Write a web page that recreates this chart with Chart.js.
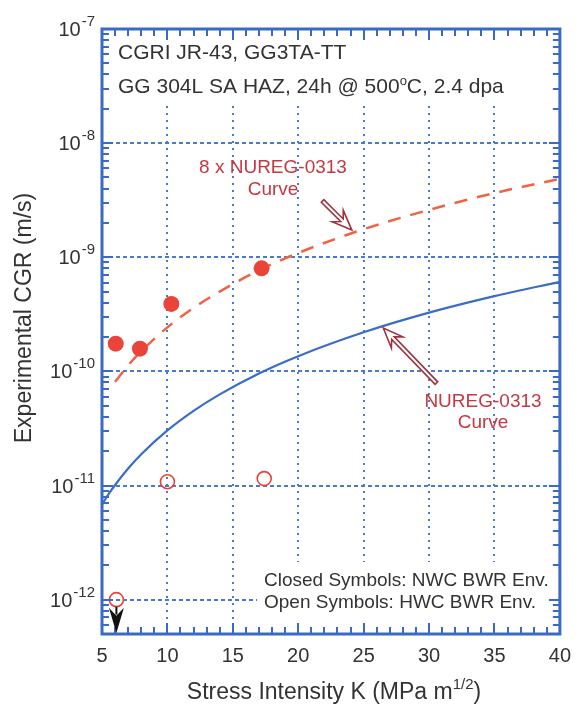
<!DOCTYPE html>
<html><head><meta charset="utf-8">
<script src="https://cdn.jsdelivr.net/npm/chart.js@4"></script>
<style>html,body{margin:0;padding:0;background:#fff;overflow:hidden}#wrap{width:581px;height:708px;position:relative}</style>
</head><body><div id="wrap"><canvas id="c" width="581" height="708"></canvas></div>
<script>
// ---- data ----
const curveK    = [5, 5.5, 6, 7, 8, 10, 12, 14, 17, 20, 25, 30, 35, 40];
const nuregCGR  = [6.8e-12, 8.4e-12, 1.01e-11, 1.41e-11, 1.88e-11, 3.04e-11, 4.51e-11, 6.29e-11, 9.6e-11, 1.36e-10, 2.2e-10, 3.27e-10, 4.56e-10, 6.09e-10];
const nureg8K   = [6, 7, 8, 10, 12, 14, 17, 20, 25, 30, 35, 40];
const nureg8CGR = [8.1e-11, 1.13e-10, 1.5e-10, 2.43e-10, 3.6e-10, 5.0e-10, 7.7e-10, 1.09e-9, 1.76e-9, 2.6e-9, 3.65e-9, 4.87e-9];
const closedK   = [6.05, 7.9, 10.3, 17.2];
const closedCGR = [1.75e-10, 1.58e-10, 3.9e-10, 8.0e-10];
const openK     = [6.1, 10.0, 17.4];
const openCGR   = [1.0e-12, 1.08e-11, 1.15e-11];
const xTicks = [5, 10, 15, 20, 25, 30, 35, 40];
const yTicks = [1e-12, 1e-11, 1e-10, 1e-9, 1e-8, 1e-7];
const yTickExp = ['-12', '-11', '-10', '-9', '-8', '-7'];

const FRAME = 'rgb(58,106,196)';
const GRID = 'rgb(72,122,208)';
const BLUE = 'rgb(58,108,200)';
const DASHRED = 'rgb(240,98,70)';
const MARK = 'rgb(234,68,58)';
const REDTXT = 'rgb(196,56,66)';
const ARROW = 'rgb(160,50,62)';
const TXT = '#333';
const FONT = '"Liberation Sans", Arial, sans-serif';

const pts = (xs, ys) => xs.map((x, i) => ({x, y: ys[i]}));

function supText(ctx, parts, x, y, align) {
  let w = 0;
  parts.forEach(p => { ctx.font = p[1] + 'px ' + FONT; w += ctx.measureText(p[0]).width; });
  let cx = align === 'center' ? x - w / 2 : (align === 'right' ? x - w : x);
  ctx.textAlign = 'left';
  ctx.textBaseline = 'alphabetic';
  parts.forEach(p => {
    ctx.font = p[1] + 'px ' + FONT;
    ctx.fillText(p[0], cx, y - (p[2] || 0));
    cx += ctx.measureText(p[0]).width;
  });
}

function hollowArrow(ctx, x0, y0, x1, y1) {
  const ang = Math.atan2(y1 - y0, x1 - x0);
  const len = Math.hypot(x1 - x0, y1 - y0);
  const L = 20, W = 8, N = 14, S = 1.8;
  ctx.save();
  ctx.translate(x1, y1);
  ctx.rotate(ang);
  ctx.beginPath();
  ctx.moveTo(0, 0);
  ctx.lineTo(-L, -W);
  ctx.lineTo(-N, -S);
  ctx.lineTo(-len, -S);
  ctx.lineTo(-len, S);
  ctx.lineTo(-N, S);
  ctx.lineTo(-L, W);
  ctx.closePath();
  ctx.fillStyle = '#fff'; ctx.fill();
  ctx.strokeStyle = ARROW; ctx.lineWidth = 1.6; ctx.lineJoin = 'miter';
  ctx.stroke();
  ctx.restore();
}

const decor = {
  id: 'decor',
  beforeDatasetsDraw(chart) {
    const {ctx, chartArea: a} = chart;
    ctx.save();
    ctx.fillStyle = '#fff';
    ctx.fillRect(a.left + 1, a.top + 1, a.right - a.left - 2, 75);
    ctx.fillRect(257, 562, a.right - 257 - 1, a.bottom - 562 - 1);
    ctx.restore();
  },
  afterDatasetsDraw(chart) {
    const {ctx, chartArea: a, scales: {x: xs, y: ys}} = chart;
    ctx.save();
    // inward ticks on all four sides
    ctx.strokeStyle = FRAME; ctx.lineWidth = 2;
    ctx.beginPath();
    for (let k = 5; k <= 40; k++) {
      const px = Math.round(xs.getPixelForValue(k));
      const len = k % 5 === 0 ? 11 : 7;
      ctx.moveTo(px, a.bottom); ctx.lineTo(px, a.bottom - len);
      ctx.moveTo(px, a.top); ctx.lineTo(px, a.top + len);
    }
    for (let d = -13; d <= -7; d++) {
      for (let m = 1; m <= 9; m++) {
        const v = m * Math.pow(10, d);
        if (v < 4.99e-13 || v > 1.0001e-7) continue;
        const py = Math.round(ys.getPixelForValue(v));
        const len = m === 1 ? 11 : 7;
        ctx.moveTo(a.left, py); ctx.lineTo(a.left + len, py);
        ctx.moveTo(a.right, py); ctx.lineTo(a.right - len, py);
      }
    }
    ctx.stroke();
    ctx.lineWidth = 3;
    ctx.strokeRect(a.left, a.top, a.right - a.left, a.bottom - a.top);

    // texts in plot
    ctx.fillStyle = TXT;
    supText(ctx, [['CGRI JR-43, GG3TA-TT', 21]], 118, 59, 'left');
    supText(ctx, [['GG 304L SA HAZ, 24h @ 500', 21], ['o', 13, 8], ['C, 2.4 dpa', 21]], 118, 93, 'left');
    supText(ctx, [['Closed Symbols: NWC BWR Env.', 19]], 264, 586, 'left');
    supText(ctx, [['Open Symbols: HWC BWR Env.', 19]], 264, 608, 'left');
    ctx.fillStyle = REDTXT;
    supText(ctx, [['8 x NUREG-0313', 19]], 273, 173, 'center');
    supText(ctx, [['Curve', 19]], 273, 195, 'center');
    supText(ctx, [['NUREG-0313', 19]], 483, 407, 'center');
    supText(ctx, [['Curve', 19]], 483, 428, 'center');

    // arrows anchored in data coordinates
    hollowArrow(ctx, xs.getPixelForValue(21.86), ys.getPixelForValue(3.11e-9), xs.getPixelForValue(24.1), ys.getPixelForValue(1.73e-9));
    hollowArrow(ctx, xs.getPixelForValue(30.56), ys.getPixelForValue(7.9e-11), xs.getPixelForValue(26.5), ys.getPixelForValue(2.4e-10));

    // black downward arrow below the open point at 1e-12
    const bx = xs.getPixelForValue(6.1);
    const by0 = ys.getPixelForValue(1.0e-12) + 7;
    const by1 = ys.getPixelForValue(5.1e-13);
    ctx.fillStyle = '#111'; ctx.strokeStyle = '#111'; ctx.lineWidth = 2;
    ctx.beginPath(); ctx.moveTo(bx, by0); ctx.lineTo(bx, by0 + 8); ctx.stroke();
    ctx.beginPath();
    ctx.moveTo(bx, by1); ctx.lineTo(bx - 7.5, by0 + 1); ctx.lineTo(bx, by0 + 9); ctx.lineTo(bx + 7.5, by0 + 1); ctx.closePath();
    ctx.fill();

    // axis titles
    ctx.fillStyle = TXT;
    supText(ctx, [['Stress Intensity K (MPa m', 23], ['1/2', 15, 10], [')', 23]], 334, 699, 'center');
    ctx.save();
    ctx.translate(31, 318);
    ctx.rotate(-Math.PI / 2);
    supText(ctx, [['Experimental CGR (m/s)', 23]], 0, 0, 'center');
    ctx.restore();
    ctx.restore();
  },
  afterDraw(chart) {
    const {ctx, scales: {y: ys}, chartArea: a} = chart;
    ctx.save();
    ctx.fillStyle = TXT;
    yTicks.forEach((v, i) => {
      const py = ys.getPixelForValue(v);
      ctx.font = '15px ' + FONT;
      const we = ctx.measureText(yTickExp[i]).width;
      ctx.textAlign = 'right'; ctx.textBaseline = 'alphabetic';
      ctx.fillText(yTickExp[i], a.left - 7, py - 3);
      ctx.font = '20px ' + FONT;
      ctx.fillText('10', a.left - 8 - we, py + 7);
    });
    ctx.restore();
  }
};

new Chart(document.getElementById('c'), {
  type: 'scatter',
  data: {
    datasets: [
      {label: 'Closed (NWC)', data: pts(closedK, closedCGR), pointRadius: 8, pointBackgroundColor: MARK, pointBorderColor: MARK, pointBorderWidth: 0, showLine: false},
      {label: 'Open (HWC)', data: pts(openK, openCGR), pointRadius: 7, pointBackgroundColor: 'rgba(0,0,0,0)', pointBorderColor: MARK, pointBorderWidth: 1.6, showLine: false},
      {label: '8 x NUREG-0313', data: pts(nureg8K, nureg8CGR), showLine: true, pointRadius: 0, borderColor: DASHRED, borderWidth: 2.5, borderDash: [13, 10], cubicInterpolationMode: 'monotone'},
      {label: 'NUREG-0313', data: pts(curveK, nuregCGR), showLine: true, pointRadius: 0, borderColor: BLUE, borderWidth: 2.2, cubicInterpolationMode: 'monotone'}
    ]
  },
  options: {
    responsive: false,
    animation: false,
    events: [],
    layout: {padding: {left: 0, right: 12, top: 29, bottom: 0}},
    plugins: {legend: {display: false}, tooltip: {enabled: false}},
    scales: {
      x: {
        type: 'linear', min: 5, max: 40,
        afterBuildTicks: s => { s.ticks = xTicks.map(v => ({value: v})); },
        afterFit: s => { s.height = 74; },
        grid: {color: GRID, lineWidth: 2, drawTicks: false, tickLength: 0},
        border: {display: false, dash: [2, 5]},
        ticks: {padding: 10, color: TXT, font: {family: FONT, size: 20}, maxRotation: 0, autoSkip: false},
        title: {display: false}
      },
      y: {
        type: 'logarithmic', min: 5e-13, max: 1e-7,
        afterBuildTicks: s => { s.ticks = yTicks.map(v => ({value: v})); },
        afterFit: s => { s.width = 102; },
        grid: {color: GRID, lineWidth: 2, drawTicks: false, tickLength: 0},
        border: {display: false, dash: [4, 3]},
        ticks: {padding: 8, color: 'rgba(0,0,0,0)', font: {family: FONT, size: 20}, autoSkip: false,
                callback: v => { const i = yTicks.findIndex(t => Math.abs(t - v) / t < 1e-6); return i >= 0 ? '10' + yTickExp[i] : ''; }},
        title: {display: false, text: 'Experimental CGR (m/s)'}
      }
    }
  },
  plugins: [decor]
});
</script>
</body></html>
